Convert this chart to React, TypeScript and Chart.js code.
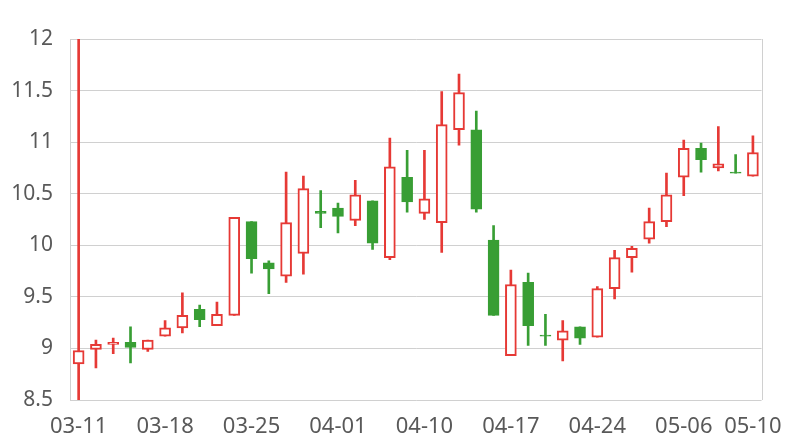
import React, { useEffect, useRef } from 'react';
import { Chart, registerables } from 'chart.js';

Chart.register(...registerables);

const dates = [
  '03-11', '03-12', '03-13', '03-14', '03-15',
  '03-18', '03-19', '03-20', '03-21', '03-22',
  '03-25', '03-26', '03-27', '03-28', '03-29',
  '04-01', '04-02', '04-03', '04-08', '04-09',
  '04-10', '04-11', '04-12', '04-15', '04-16',
  '04-17', '04-18', '04-19', '04-22', '04-23',
  '04-24', '04-25', '04-26', '04-29', '04-30',
  '05-06', '05-07', '05-08', '05-09', '05-10',
];

const opens = [
  8.85, 8.99, 9.04, 9.06, 8.99, 9.12, 9.20, 9.38, 9.22, 9.32,
  10.23, 9.83, 9.70, 9.92, 10.33, 10.36, 10.24, 10.43, 9.88, 10.66,
  10.31, 10.22, 11.12, 11.12, 10.05, 8.93, 9.64, 9.13, 9.08, 9.21,
  9.11, 9.58, 9.88, 10.06, 10.23, 10.66, 10.94, 10.75, 10.71, 10.67,
];
const closes = [
  8.98, 9.04, 9.06, 9.01, 9.08, 9.20, 9.32, 9.28, 9.33, 10.27,
  9.87, 9.77, 10.22, 10.55, 10.31, 10.28, 10.49, 10.02, 10.76, 10.42,
  10.45, 11.17, 11.48, 10.35, 9.32, 9.62, 9.22, 9.12, 9.17, 9.10,
  9.58, 9.88, 9.97, 10.23, 10.49, 10.94, 10.83, 10.79, 10.70, 10.90,
];
const highs = [
  12.0, 9.08, 9.10, 9.21, 9.08, 9.27, 9.54, 9.42, 9.45, 10.27,
  10.23, 9.85, 10.71, 10.67, 10.53, 10.41, 10.63, 10.43, 11.04, 10.92,
  10.92, 11.49, 11.66, 11.30, 10.19, 9.76, 9.73, 9.33, 9.27, 9.21,
  9.60, 9.95, 9.99, 10.36, 10.70, 11.02, 10.99, 11.15, 10.88, 11.06,
];
const lows = [
  8.5, 8.81, 8.95, 8.86, 8.97, 9.12, 9.15, 9.21, 9.22, 9.32,
  9.73, 9.53, 9.64, 9.72, 10.17, 10.12, 10.19, 9.96, 9.86, 10.32,
  10.25, 9.93, 10.97, 10.32, 9.32, 8.93, 9.03, 9.03, 8.88, 9.04,
  9.11, 9.48, 9.74, 10.02, 10.18, 10.48, 10.71, 10.72, 10.70, 10.67,
];

const yMin = 8.5;
const yMax = 12;
const yStep = 0.5;
const labelEvery = 5;

const UP = 'rgb(230,57,53)';
const DOWN = 'rgb(56,158,52)';
const GRID = 'rgb(208,208,208)';
const TEXT = 'rgb(89,89,89)';

const rightBorder = {
  id: 'rightBorder',
  beforeDatasetsDraw(chart: any) {
    const { ctx, chartArea } = chart;
    ctx.save();
    ctx.strokeStyle = GRID;
    ctx.lineWidth = 1;
    ctx.beginPath();
    const x = Math.round(chartArea.right) + 0.5;
    ctx.moveTo(x, chartArea.top);
    ctx.lineTo(x, chartArea.bottom);
    ctx.stroke();
    ctx.restore();
  },
};

export default function App() {
  const ref = useRef<HTMLCanvasElement | null>(null);

  useEffect(() => {
    if (!ref.current) return;
    const up = opens.map((o, i) => closes[i] >= o);
    const colors = up.map((u) => (u ? UP : DOWN));

    const chart = new Chart(ref.current, {
      type: 'bar',
      data: {
        labels: dates,
        datasets: [
          {
            label: 'wick',
            data: dates.map((_, i) => [lows[i], highs[i]]) as any,
            backgroundColor: colors,
            borderWidth: 0,
            barThickness: 2,
            grouped: false,
            order: 1,
          },
          {
            label: 'body',
            data: dates.map((_, i) => [opens[i], closes[i]]) as any,
            backgroundColor: up.map((u) => (u ? '#ffffff' : DOWN)),
            borderColor: colors,
            borderWidth: 2,
            borderSkipped: false,
            barThickness: 11,
            grouped: false,
            order: 0,
          },
        ],
      },
      options: {
        animation: false,
        responsive: true,
        maintainAspectRatio: false,
        layout: { padding: { top: 31, right: 30, left: 0, bottom: 0 } },
        plugins: {
          legend: { display: false },
          tooltip: { enabled: false },
        },
        scales: {
          x: {
            offset: true,
            grid: { display: false, drawTicks: false },
            border: { display: false },
            afterFit: (scale: any) => {
              scale.height = 40;
            },
            ticks: {
              autoSkip: false,
              maxRotation: 0,
              minRotation: 0,
              padding: 14,
              color: TEXT,
              font: { family: 'Noto Sans', size: 22 },
              callback: (_v: any, i: number) =>
                i % labelEvery === 0 || i === dates.length - 1 ? dates[i] : '',
            },
          },
          y: {
            min: yMin,
            max: yMax,
            afterFit: (scale: any) => {
              scale.width = 62;
            },
            grid: { color: GRID, drawTicks: false },
            border: { display: true, color: GRID },
            ticks: {
              stepSize: yStep,
              padding: 17,
              color: TEXT,
              font: { family: 'Noto Sans', size: 21 },
              callback: (v: any) => String(Number(v)),
            },
          },
        },
      },
      plugins: [rightBorder],
    });
    return () => chart.destroy();
  }, []);

  return (
    <div style={{ width: 788, height: 432, position: 'relative' }}>
      <canvas ref={ref} />
    </div>
  );
}
